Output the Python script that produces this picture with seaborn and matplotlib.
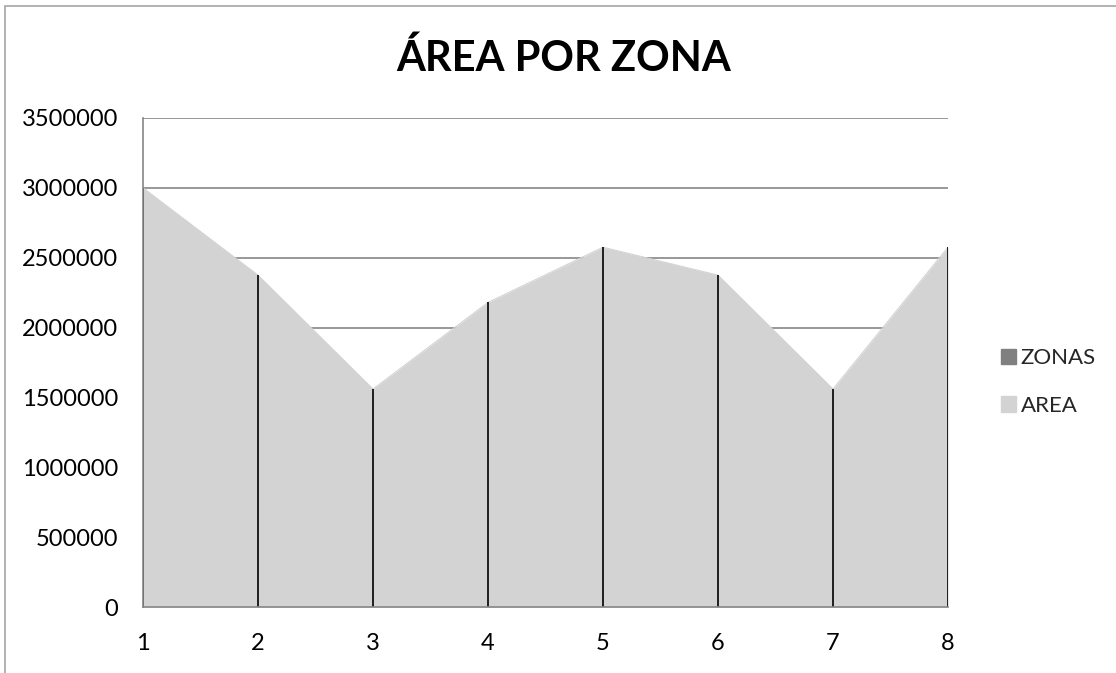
import matplotlib
matplotlib.use("Agg")
import matplotlib.pyplot as plt
import matplotlib.patches as mpatches
import seaborn as sns
import pandas as pd

zonas = [1, 2, 3, 4, 5, 6, 7, 8]
zonas_vals = [1, 2, 3, 4, 5, 6, 7, 8]
area_vals = [3000000, 2375000, 1560000, 2180000, 2575000, 2375000, 1560000, 2575000]
y_ticks = [0, 500000, 1000000, 1500000, 2000000, 2500000, 3000000, 3500000]
title = "ÁREA POR ZONA"

sns.set_theme(style="white")
plt.rcParams['font.family'] = ['Lato', 'DejaVu Sans']

df = pd.DataFrame({"ZONA": zonas, "ZONAS": zonas_vals, "AREA": area_vals})
df["TOP"] = df["ZONAS"] + df["AREA"]

fig = plt.figure(figsize=(11.16, 6.73), dpi=100)
ax = fig.add_axes([143/1116, 1-607/673, (948-143)/1116, (607-118)/673])

c_zonas = "#808080"
c_area = "#d3d3d3"

ax.fill_between(df["ZONA"], 0, df["ZONAS"], color=c_zonas, linewidth=0, zorder=2)
ax.fill_between(df["ZONA"], df["ZONAS"], df["TOP"], color=c_area, linewidth=0, zorder=2)
sns.lineplot(data=df, x="ZONA", y="TOP", ax=ax, color=c_area, linewidth=0.8, zorder=2, legend=False)

# drop lines
ax.vlines(df["ZONA"], 0, df["TOP"], colors="#000000", linewidth=1.2, zorder=3)

ax.set_xlim(zonas[0], zonas[-1])
ax.set_ylim(0, 3500000)
ax.set_yticks(y_ticks)
ax.set_yticklabels([str(v) for v in y_ticks])
ax.set_xticks(zonas)
ax.set_xticklabels([str(z) for z in zonas])
ax.yaxis.grid(True, color="#868686", linewidth=1.2, zorder=1)
ax.xaxis.grid(False)
ax.set_axisbelow(True)
ax.set_xlabel("")
ax.set_ylabel("")
for s in ["top", "right"]:
    ax.spines[s].set_visible(False)
for s in ["left", "bottom"]:
    ax.spines[s].set_color("#868686")
    ax.spines[s].set_linewidth(1.2)
    ax.spines[s].set_zorder(4)
ax.tick_params(axis="both", length=0, labelsize=17, colors="#000000")
ax.tick_params(axis="y", pad=18)
ax.tick_params(axis="x", pad=19)

fig.text(0.505, 1-58/673, title, ha="center", va="center", fontsize=30, fontweight="bold", color="#000000")

handles = [mpatches.Patch(color=c_zonas, label="ZONAS"), mpatches.Patch(color=c_area, label="AREA")]
leg = fig.legend(handles=handles, loc="center left", bbox_to_anchor=(990/1116, 1-382/673),
                 frameon=False, fontsize=16, handlelength=0.68, handleheight=0.68,
                 handletextpad=0.2, labelspacing=1.25, borderpad=0)

border = mpatches.Rectangle((5/1116, -0.1), 2, 1-6/673+0.1, transform=fig.transFigure,
                            fill=False, edgecolor="#a6a6a6", linewidth=1.2)
fig.patches.append(border)

fig.savefig("out.png", dpi=100)
